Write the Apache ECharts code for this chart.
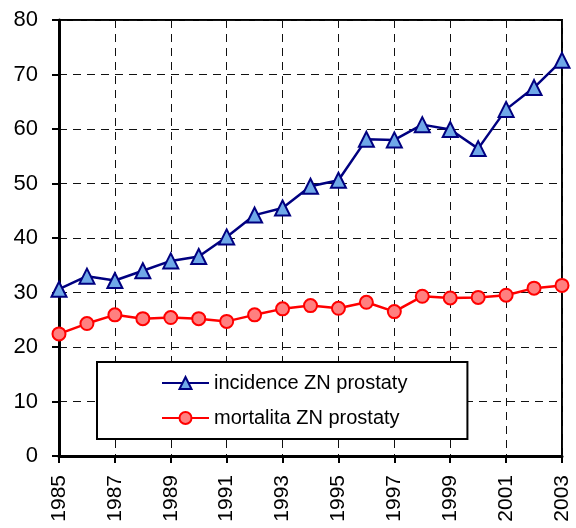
<!DOCTYPE html>
<html><head><meta charset="utf-8">
<script src="https://cdn.jsdelivr.net/npm/echarts@6/dist/echarts.min.js"></script>
<style>html,body{margin:0;padding:0;background:#fff}#c{width:576px;height:528px}</style>
</head><body><div id="c"></div>
<script>
var years = ['1985','1986','1987','1988','1989','1990','1991','1992','1993','1994','1995','1996','1997','1998','1999','2000','2001','2002','2003'];
var incidence = [30.6,33.0,32.2,34.0,35.8,36.6,40.2,44.2,45.5,49.5,50.6,58.1,58.0,60.8,59.9,56.4,63.6,67.6,72.6];
var mortality = [22.4,24.3,25.9,25.2,25.4,25.2,24.7,25.9,27.0,27.6,27.1,28.2,26.5,29.3,29.0,29.1,29.5,30.8,31.3];
var seriesNames = ['incidence ZN prostaty','mortalita ZN prostaty'];
var FONT = "'Liberation Sans Narrow','Arial Narrow','Liberation Sans',Arial,sans-serif";
var chart = echarts.init(document.getElementById('c'));
chart.setOption({
  animation:false,
  backgroundColor:'#fff',
  textStyle:{fontFamily:FONT},
  grid:{left:59,right:14,top:20,bottom:72,show:true,borderColor:'#000',borderWidth:2,backgroundColor:'transparent'},
  legend:{
    orient:'vertical',left:97,top:362,
    backgroundColor:'#fff',borderColor:'#000',borderWidth:2,
    padding:[11,60,11,64],itemGap:15,itemWidth:47,itemHeight:15,
    textStyle:{fontFamily:FONT,fontSize:20,color:'#000'},
    data:seriesNames
  },
  xAxis:{
    type:'category',data:years,boundaryGap:false,
    axisLine:{lineStyle:{color:'#000',width:3}},
    axisTick:{show:true,interval:1,length:7,lineStyle:{color:'#000',width:2}},
    axisLabel:{interval:1,rotate:90,fontSize:21,color:'#000',margin:19,fontFamily:FONT},
    splitLine:{show:true,interval:1,lineStyle:{color:'#111',type:[8,6],width:1}}
  },
  yAxis:{
    type:'value',min:0,max:80,interval:10,
    axisLine:{show:true,lineStyle:{color:'#000',width:3}},
    axisTick:{show:true,length:7,lineStyle:{color:'#000',width:2}},
    axisLabel:{fontSize:22,color:'#000',margin:21,fontFamily:FONT},
    splitLine:{show:true,lineStyle:{color:'#111',type:[8,6],width:1}}
  },
  series:[
    {name:seriesNames[0],type:'line',data:incidence,symbol:'triangle',symbolSize:15,
     lineStyle:{color:'#000080',width:2.5},itemStyle:{color:'#6fa8e8',borderColor:'#000080',borderWidth:2},z:3},
    {name:seriesNames[1],type:'line',data:mortality,symbol:'circle',symbolSize:13,
     lineStyle:{color:'#ff0000',width:2.5},itemStyle:{color:'#ff8080',borderColor:'#ff0000',borderWidth:2},z:3}
  ]
});
</script></body></html>
